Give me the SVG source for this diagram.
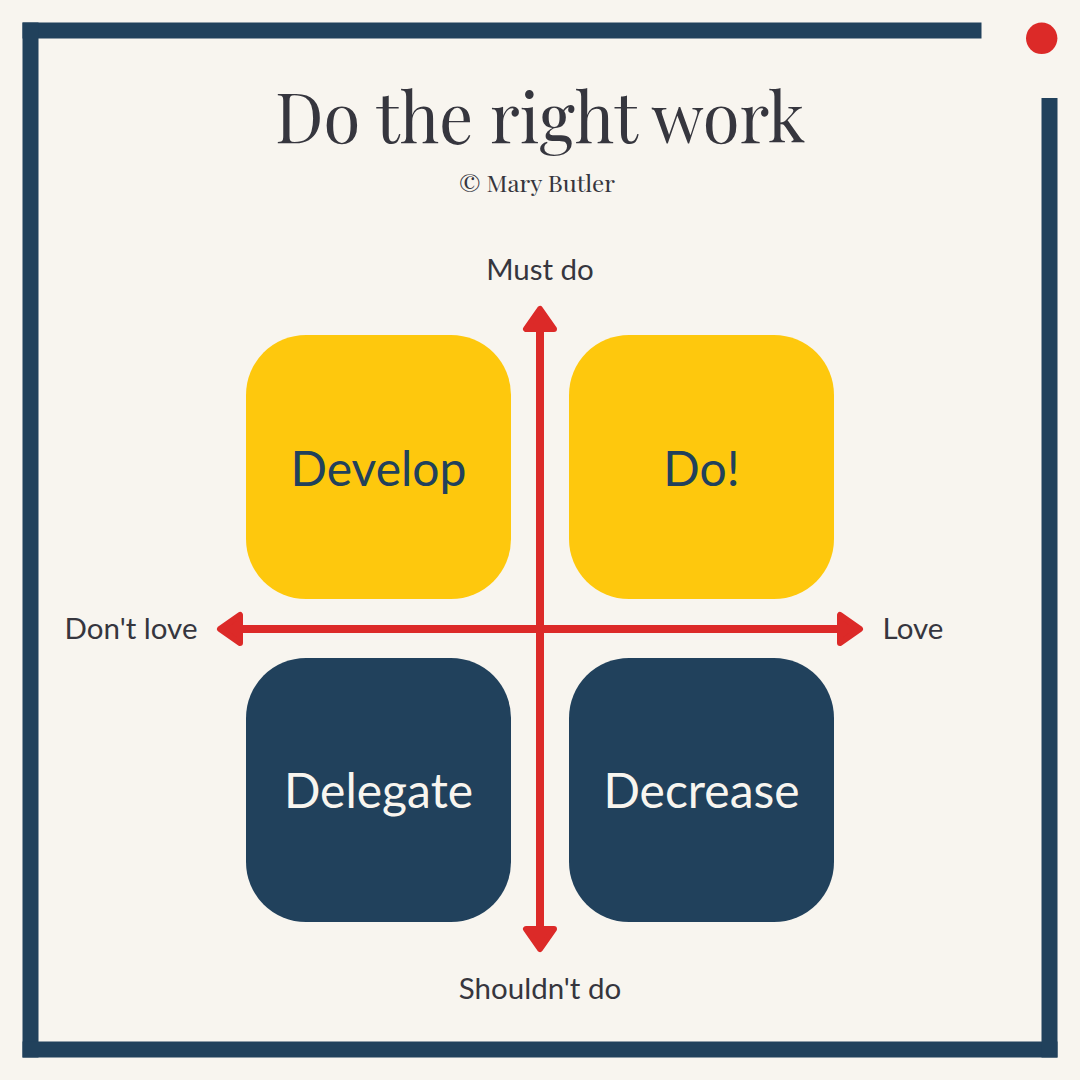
<svg xmlns="http://www.w3.org/2000/svg" width="1080" height="1080" viewBox="0 0 1080 1080">
<defs>
<style>
.frame{fill:#21415c}
.title{font-family:"Playfair Display","Liberation Serif","DejaVu Serif",serif;fill:#36363e;text-anchor:middle}
.lbl{font-family:Lato,"Liberation Sans",sans-serif;font-size:29.5px;fill:#36363e;text-anchor:middle}
.q{font-family:Lato,"Liberation Sans",sans-serif;font-size:48px;text-anchor:middle}
.yel{fill:#fec80d}
.navy{fill:#21415c}
.axis{stroke:#dc2a28;stroke-width:8;fill:none}
.head{fill:#dc2a28;stroke:#dc2a28;stroke-width:6;stroke-linejoin:round}
</style>
</defs>
<rect width="1080" height="1080" fill="#f8f5ef"/>
<g id="frame">
<rect class="frame" x="22.5" y="22.5" width="959" height="16"/>
<rect class="frame" x="22.5" y="22.5" width="16" height="1035"/>
<rect class="frame" x="22.5" y="1041.5" width="1035" height="16"/>
<rect class="frame" x="1041.5" y="98" width="16" height="959.5"/>
<circle cx="1041.7" cy="38.3" r="15.7" fill="#dc2a28"/>
</g>
<g id="title">
<text class="title" x="540" y="143" font-size="70" textLength="530" lengthAdjust="spacingAndGlyphs">Do the right work</text>
<text class="title" x="537" y="192" font-size="23" textLength="156" lengthAdjust="spacingAndGlyphs">© Mary Butler</text>
</g>
<g id="develop">
<rect class="yel" x="246" y="335" width="265" height="264" rx="60"/>
<text class="q" x="378.5" y="486" fill="#21415c">Develop</text>
</g>
<g id="do">
<rect class="yel" x="569" y="335" width="265" height="264" rx="60"/>
<text class="q" x="701.5" y="486" fill="#21415c">Do!</text>
</g>
<g id="delegate">
<rect class="navy" x="246" y="658" width="265" height="264" rx="60"/>
<text class="q" x="378.5" y="808" fill="#f8f5ef">Delegate</text>
</g>
<g id="decrease">
<rect class="navy" x="569" y="658" width="265" height="264" rx="60"/>
<text class="q" x="701.5" y="808" fill="#f8f5ef">Decrease</text>
</g>
<g id="connectors">
<line class="axis" x1="540" y1="325" x2="540" y2="932"/>
<line class="axis" x1="236" y1="629" x2="844" y2="629"/>
<polygon class="head" points="540,309 526,329 554,329"/>
<polygon class="head" points="540,949 526,929 554,929"/>
<polygon class="head" points="220,629 240,615 240,643"/>
<polygon class="head" points="860,629 840,615 840,643"/>
</g>
<g id="labels">
<text class="lbl" x="540" y="280">Must do</text>
<text class="lbl" x="540" y="999">Shouldn't do</text>
<text class="lbl" x="131" y="639">Don't love</text>
<text class="lbl" x="913" y="639">Love</text>
</g>
</svg>
